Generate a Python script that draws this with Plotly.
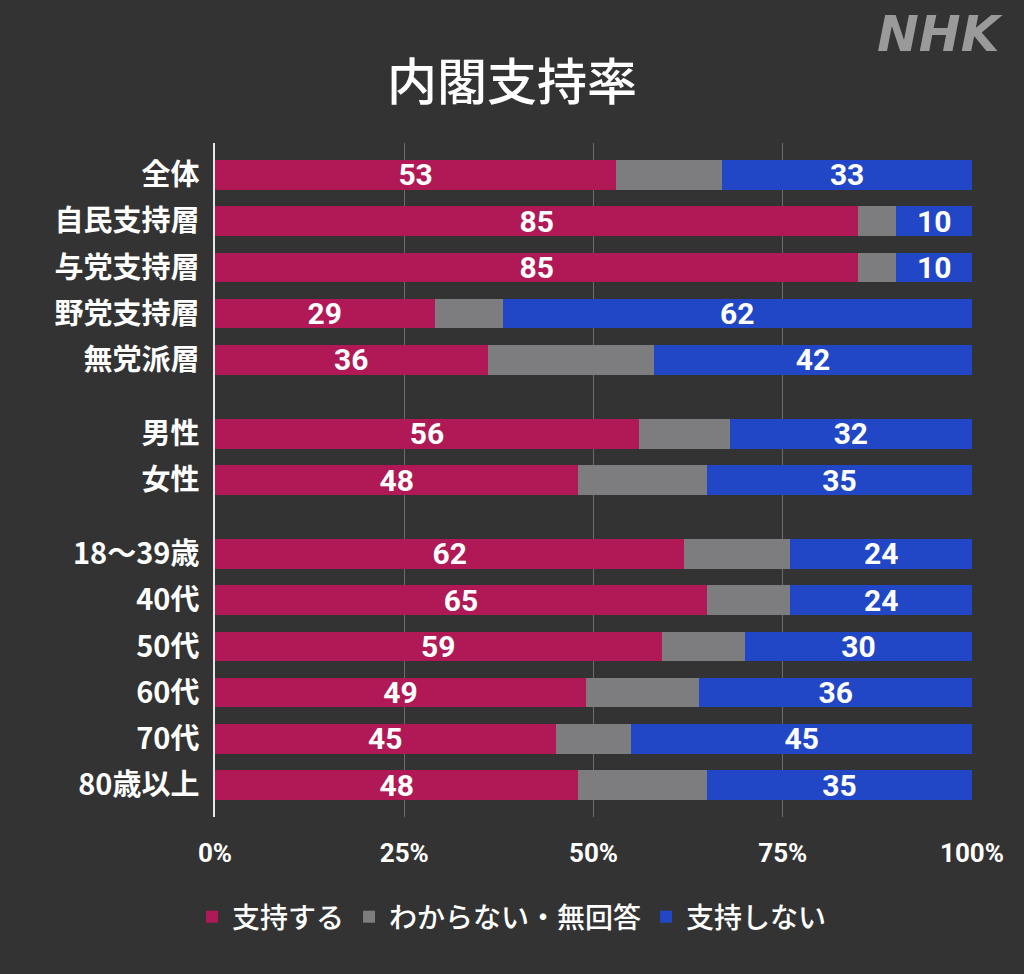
import plotly.graph_objects as go

# rows grouped as in the original (gap between groups)
groups = [
    ['全体', '自民支持層', '与党支持層', '野党支持層', '無党派層'],
    ['男性', '女性'],
    ['18～39歳', '40代', '50代', '60代', '70代', '80歳以上'],
]

support = [53, 85, 85, 29, 36, 56, 48, 62, 65, 59, 49, 45, 48]
unknown = [14, 5, 5, 9, 22, 12, 17, 14, 11, 11, 15, 10, 17]
oppose = [33, 10, 10, 62, 42, 32, 35, 24, 24, 30, 36, 45, 35]

series_names = ['支持する', 'わからない・無回答', '支持しない']
colors = ['#b01955', '#7d7c7e', '#2147c7']

x_ticks = [0, 25, 50, 75, 100]

# y positions: one unit per row, extra space between groups
group_gap = 0.6
labels, ypos = [], []
for g, rows in enumerate(groups):
    for i, name in enumerate(rows):
        labels.append(name)
        ypos.append(len(labels) - 1 + g * group_gap)

bg = '#333333'
jp_font = 'Noto Sans CJK JP'
num_font = 'Roboto'

fig = go.Figure()
for name, vals, col in zip(series_names, [support, unknown, oppose], colors):
    show_text = name != 'わからない・無回答'
    fig.add_trace(go.Bar(
        x=vals, y=ypos, name=name, orientation='h',
        marker=dict(color=col, line=dict(width=0)),
        width=0.64,
        text=[str(v) for v in vals] if show_text else None,
        textposition='inside' if show_text else 'none',
        insidetextanchor='middle', textangle=0, constraintext='none',
        textfont=dict(family=num_font, size=30, color='white', weight='bold'),
        hoverinfo='skip',
    ))

fig.update_layout(
    barmode='stack',
    width=1024, height=974,
    paper_bgcolor=bg, plot_bgcolor=bg,
    margin=dict(l=215, r=52, t=143, b=157),
    title=dict(text='内閣支持率', x=0.5, xref='container', xanchor='center',
               y=1 - 82 / 974, yref='container', yanchor='middle',
               font=dict(family=jp_font, size=50, color='white', weight=500)),
    legend=dict(orientation='h', x=0.5, xref='container', xanchor='center',
                y=1 - 917 / 974, yref='container', yanchor='middle',
                font=dict(family=jp_font, size=28, color='white', weight=500),
                traceorder='normal', itemclick=False, itemdoubleclick=False),
    showlegend=True,
)

fig.update_xaxes(
    range=[0, 100], tickvals=x_ticks, ticktext=[f'{t}%' for t in x_ticks],
    showgrid=True, gridcolor='#6b6b6b', gridwidth=1, zeroline=False,
    showline=False, ticks='', ticklabelstandoff=18,
    tickfont=dict(family=num_font, size=26, color='white', weight='bold'),
    fixedrange=True,
)
fig.update_yaxes(
    range=[ypos[-1] + 0.69, -0.69], tickvals=ypos, ticktext=labels,
    showgrid=False, zeroline=False,
    showline=True, linecolor='#e6e6e6', linewidth=1.5,
    ticks='', ticklabelstandoff=8,
    tickfont=dict(family=jp_font, size=29, color='white', weight='bold'),
    fixedrange=True,
)

fig.add_annotation(
    text='NHK', xref='paper', yref='paper', x=1.0436, y=(817 - 34) / 674,
    xanchor='right', yanchor='middle', showarrow=False,
    font=dict(family='DejaVu Sans', size=50, color='#9a9a9a', weight='bold', style='italic'),
)

fig.write_html('out.html', config={'displayModeBar': False},
               post_script="document.body.style.margin='0';")
